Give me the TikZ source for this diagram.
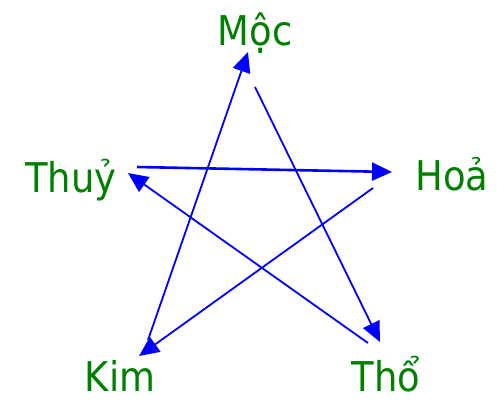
\documentclass[tikz,border=0pt]{standalone}
\usepackage{fontspec}
\setmainfont{DejaVu Sans Condensed}
\usetikzlibrary{arrows.meta}
\definecolor{lblgreen}{RGB}{0,128,0}
\definecolor{arrblue}{RGB}{0,0,255}
\begin{document}
\begin{tikzpicture}[x=1pt,y=-1pt,
  lbl/.style={text=lblgreen,font=\fontsize{41}{48}\selectfont,inner sep=0pt,anchor=base},
  conn/.style={draw=arrblue,line width=1.8pt,-{Triangle[length=20pt,width=18pt]}}]
\useasboundingbox (0,0) rectangle (497,402);
% labels
\node[lbl] (moc)  at (255,45)  {Mộc};
\node[lbl] (thuy) at (71,192)  {Thuỷ};
\node[lbl] (hoa)  at (452,190) {Hoả};
\node[lbl] (kim)  at (120,391) {Kim};
\node[lbl] (tho)  at (386,391) {Thổ};
% connector ends
\coordinate (m1) at (248,52);
\coordinate (m2) at (255,87);
\coordinate (t1) at (380,342);
\coordinate (t2) at (368,343);
\coordinate (y1) at (128,173);
\coordinate (y2) at (137,167);
\coordinate (h1) at (392,172);
\coordinate (h2) at (373,188);
\coordinate (k1) at (139,356);
\coordinate (k2) at (148,340);
% connectors
\draw[conn] (k2) -- (m1);
\draw[conn] (m2) -- (t1);
\draw[conn] (t2) -- (y1);
\draw[conn,line width=2.6pt] (y2) -- (h1);
\draw[conn] (h2) -- (k1);
\end{tikzpicture}
\end{document}
